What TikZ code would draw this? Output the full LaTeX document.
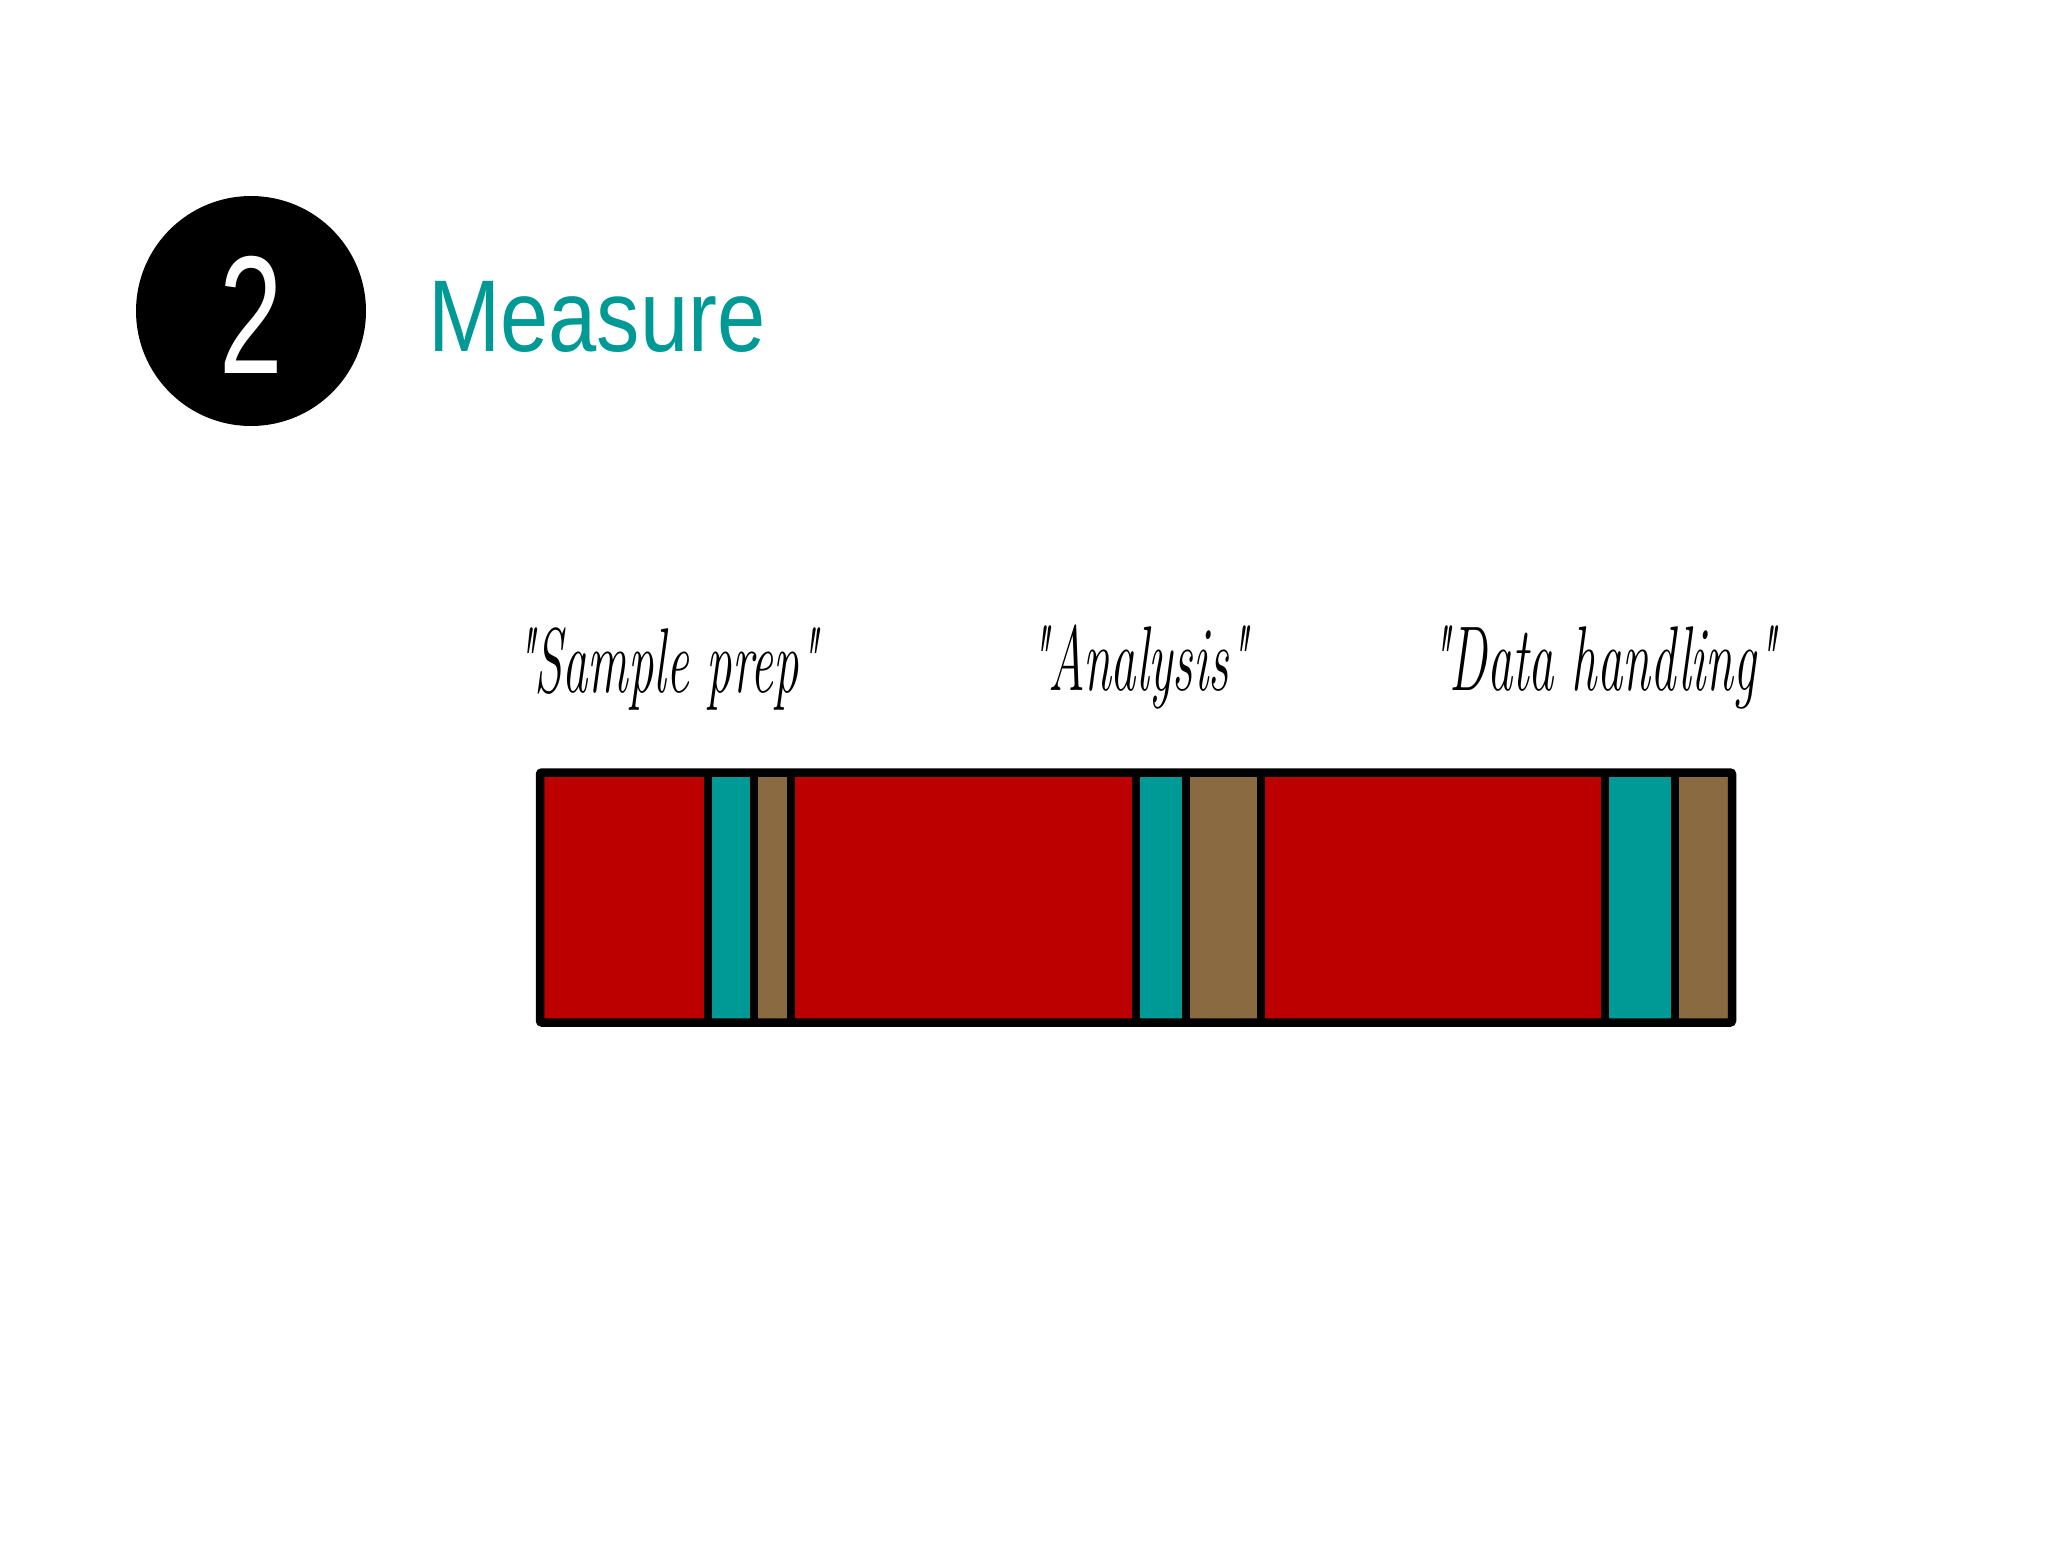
\documentclass[tikz,border=0pt]{standalone}
\usepackage{fontspec}
\newfontfamily\condfont[FakeStretch=0.85]{Liberation Sans}
\newfontfamily\numfont[FakeStretch=0.68]{Liberation Sans}
\newfontfamily\handfont[FakeStretch=0.55]{Latin Modern Roman}
\definecolor{tealc}{HTML}{009A96}
\definecolor{redc}{HTML}{BC0000}
\definecolor{brownc}{HTML}{8A6A40}
\tikzset{
  seg/.style={draw=none},
  divider/.style={line width=8pt, black},
  frame/.style={line width=8.5pt, black, rounded corners=2pt},
  hand/.style={anchor=base west, inner sep=0pt, font=\handfont\itshape\fontsize{92}{92}\selectfont}
}
\begin{document}
\begin{tikzpicture}[x=1pt,y=-1pt]
\useasboundingbox (0,0) rectangle (2048,1540);
\fill[white] (0,0) rectangle (2048,1540);
% number circle
\node[circle, fill=black, minimum size=230pt, inner sep=0pt] (num) at (251,311) {};
\node[anchor=base, inner sep=0pt, text=white, font=\numfont\fontsize{168}{168}\selectfont] (numtxt) at (251,373) {2};
% title
\node[anchor=base west, inner sep=0pt, text=tealc, font=\condfont\fontsize{102}{102}\selectfont] (title) at (428,351) {Measure};
% labels
\node[hand] (l1) at (515,692) {"Sample prep"};
\node[hand] (l2) at (1029,690) {"Analysis"};
\node[hand] (l3) at (1430,690) {"Data handling"};
% bar segments
\def\yt{772.5}\def\yb{1022.5}
\fill[redc]   (540,\yt) rectangle (708,\yb);
\fill[tealc]  (708,\yt) rectangle (754,\yb);
\fill[brownc] (754,\yt) rectangle (791,\yb);
\fill[redc]   (791,\yt) rectangle (1136,\yb);
\fill[tealc]  (1136,\yt) rectangle (1186,\yb);
\fill[brownc] (1186,\yt) rectangle (1261,\yb);
\fill[redc]   (1261,\yt) rectangle (1605,\yb);
\fill[tealc]  (1605,\yt) rectangle (1675,\yb);
\fill[brownc] (1675,\yt) rectangle (1732,\yb);
\foreach \x in {708,754,791,1136,1186,1261,1605,1675}
  \draw[divider] (\x,\yt) -- (\x,\yb);
\draw[frame] (540,\yt) rectangle (1732,\yb);
\end{tikzpicture}
\end{document}
